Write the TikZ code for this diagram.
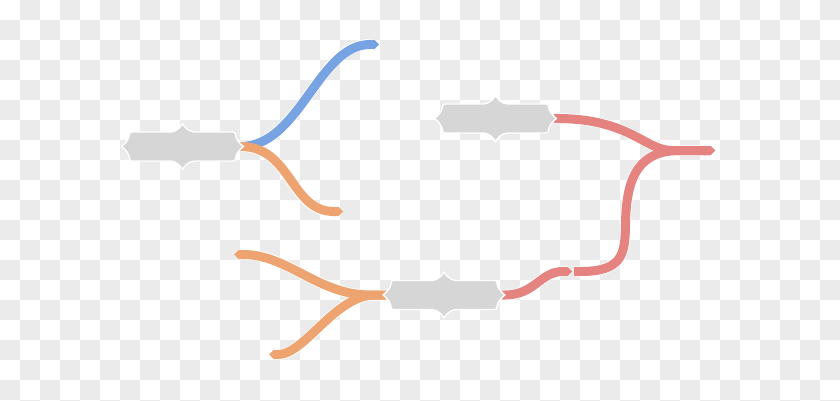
\documentclass[tikz,border=0pt]{standalone}
\usetikzlibrary{arrows.meta,calc}
\definecolor{chk}{HTML}{EBEBEB}
\definecolor{nodegray}{HTML}{D6D6D6}
\definecolor{blueC}{HTML}{78A3E2}
\definecolor{orangeC}{HTML}{EEA470}
\definecolor{redC}{HTML}{E48380}
\tikzset{
  hub/.style={minimum width=122pt, minimum height=29pt, inner sep=0pt, outer sep=0pt},
  ornament/.style={fill=nodegray, draw=white, line width=1.3pt, line join=round},
  bc/.style={draw=#1, line width=9pt},
  tipend/.style={-{Triangle Cap}},
  halo/.style={bc/.style={draw=white, line width=10.5pt}},
  checker/.style={fill=chk},
}
\newcommand\ornpath{(-61,0) .. controls (-57,-3) and (-53.5,-7) .. (-53,-11.5)
 .. controls (-53,-14) and (-52.5,-14.5) .. (-50,-14.5)
 -- (-12,-14.5) .. controls (-7,-14.5) and (-2,-19) .. (0,-23)
 .. controls (2,-19) and (7,-14.5) .. (12,-14.5)
 -- (50,-14.5) .. controls (52.5,-14.5) and (53,-14) .. (53,-11.5)
 .. controls (53.5,-7) and (57,-3) .. (61,0)
 .. controls (57,3) and (53.5,7) .. (53,11.5)
 .. controls (53,14) and (52.5,14.5) .. (50,14.5)
 -- (12,14.5) .. controls (7,14.5) and (2,19) .. (0,23)
 .. controls (-2,19) and (-7,14.5) .. (-12,14.5)
 -- (-50,14.5) .. controls (-52.5,14.5) and (-53,14) .. (-53,11.5)
 .. controls (-53.5,7) and (-57,3) .. cycle}
\newcommand\branchpaths{%
  \draw[bc=blueC,tipend] ([xshift=-3pt]n1.east) .. controls +(59.5,0) and +(-61,0) .. (eb);
  \draw[bc=orangeC,tipend] ([xshift=-3pt]n1.east) .. controls +(51.5,0) and +(-53,0) .. (eo1);
  \draw[bc=orangeC,tipend] ([xshift=3pt]n3.west) -- ++(-16,0) .. controls +(-52,0) and +(54,0) .. (eo2);
  \draw[bc=orangeC,tipend] ([xshift=3pt]n3.west) -- ++(-11,0) .. controls +(-40,0) and +(36,0) .. (eo3);
  \draw[bc=redC,tipend] ([xshift=-3pt]n2.east) -- ++(3,0) .. controls +(73.5,0) and +(-27,0) .. (jr) -- (er);
  \draw[bc=redC,tipend] (mB) -- ++(6,0) .. controls +(42,0) and +(-0.5,30) .. (vr) .. controls +(0.5,-50) and +(-40,0) .. (jr2) -- (er);
}
\newcommand\segA{%
  \draw[bc=redC,tipend] ([xshift=-3pt]n3.east) -- ++(3,0) .. controls +(30,0) and +(-32,0) .. (mA);
}
\begin{document}
\begin{tikzpicture}[x=1pt,y=-1pt]
\useasboundingbox (0,0) rectangle (840,401);
\fill[white] (0,0) rectangle (840,401);
\foreach \i in {0,...,41} {
  \foreach \j in {0,...,20} {
    \pgfmathtruncatemacro\chkpar{mod(\i+\j,2)}
    \ifnum\chkpar=1 \path[checker] (20*\i,20*\j) rectangle ++(20,20);\fi
  }
}
% hubs
\node[hub] (n1) at (182.5,146.5) {};
\node[hub] (n2) at (495.5,118.5) {};
\node[hub] (n3) at (444,295) {};
% free ends and bends
\coordinate (eb) at (379,44.5);
\coordinate (eo1) at (343,211.5);
\coordinate (eo2) at (234,254.5);
\coordinate (eo3) at (269,354.5);
\coordinate (jr) at (672,150.5);
\coordinate (jr2) at (680,150.5);
\coordinate (er) at (715,150.5);
\coordinate (vr) at (625.5,225);
\coordinate (mA) at (572,271.5);
\coordinate (mB) at (574,271.5);
% connectors
\begin{scope}[halo]\branchpaths\end{scope}
\branchpaths
\begin{scope}[halo]\segA\end{scope}
\segA
% node shapes
\foreach \n in {n1,n2,n3} { \path[ornament, shift={(\n.center)}] \ornpath; }
\end{tikzpicture}
\end{document}
